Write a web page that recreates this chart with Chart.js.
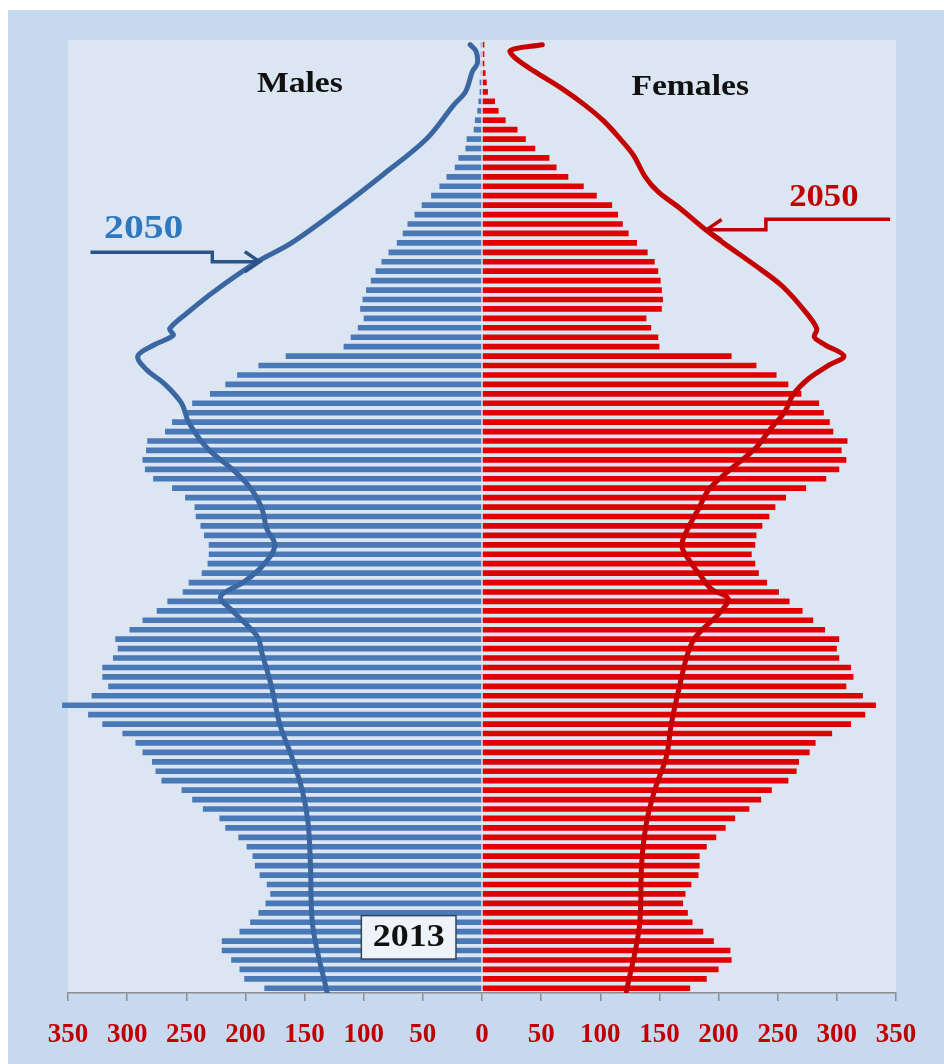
<!DOCTYPE html>
<html>
<head>
<meta charset="utf-8">
<script src="https://cdn.jsdelivr.net/npm/chart.js@4.4.1/dist/chart.umd.min.js"></script>
<style>
  html, body { margin: 0; padding: 0; background: #fff; }
  #wrap { width: 944px; height: 1064px; position: relative; }
</style>
</head>
<body>
<div id="wrap"><canvas id="pyramid"></canvas></div>
<script>
// single years of age, 0 at the bottom up to 100+
const ages = Array.from({ length: 101 }, (_, i) => i);

// 2013 population by single year of age (thousands)
const males2013 = [
  184, 201, 205, 212, 220, 220, 205, 196, 189, 183,
  179, 182, 188, 192, 194, 199, 206, 217, 222, 236,
  245, 254, 271, 276, 279, 287, 293, 304, 321, 333,
  355, 330, 316, 321, 321, 312, 308, 310, 298, 287,
  275, 266, 253, 248, 237, 232, 231, 231, 235, 238,
  242, 243, 251, 262, 278, 285, 287, 284, 283, 268,
  262, 252, 245, 230, 217, 207, 189, 166, 117, 111,
  105, 100, 103, 101, 98, 94, 90, 85, 79, 72,
  67, 63, 57, 51, 43, 36, 30, 23, 20, 14,
  13, 7, 6, 4, 3, 2, 2, 1, 1, 1, 1
];
const females2013 = [
  176, 190, 200, 211, 210, 196, 187, 178, 174, 170,
  172, 177, 183, 184, 184, 190, 198, 206, 214, 226,
  236, 245, 259, 266, 268, 277, 282, 296, 312, 324,
  333, 322, 308, 314, 312, 302, 300, 302, 290, 280,
  271, 260, 251, 241, 234, 231, 228, 231, 232, 237,
  243, 248, 257, 274, 291, 302, 308, 304, 309, 297,
  294, 289, 285, 270, 259, 249, 232, 211, 150, 149,
  143, 139, 152, 153, 152, 151, 149, 146, 140, 131,
  124, 119, 115, 110, 97, 86, 73, 63, 57, 45,
  37, 30, 20, 14, 11, 5, 4, 3, 2, 2, 2
];

// 2050 projection, read at the ages where the profile bends
const males2050Ages = [-0.4, 6.5, 13, 17.5, 21, 24.6, 28, 32, 35.5, 37.3, 40, 41.5, 43, 44.7, 46.9, 48.7,
  50.8, 52.9, 55, 57.2, 60, 62, 64, 65.6, 67, 68.2, 69.2, 69.9, 71.7, 73.8, 77, 79, 82.7, 86.2,
  90, 93.6, 95, 97.2, 98, 99.3, 100];
const males2050 = [131, 143, 145, 147, 152, 161, 171, 178, 186, 190, 211, 221, 202, 186, 175, 182,
  186, 195, 211, 232, 248, 254, 268, 284, 291, 277, 261, 264, 248, 227, 190, 161, 120, 84,
  47, 24, 14, 8, 4, 5, 10];

const females2050Ages = [-0.4, 6.5, 13.3, 17.5, 21, 24.6, 28, 32, 35.5, 37.3, 39.8, 41.3, 42.3, 43.7, 45.2,
  46.9, 48.7, 50.8, 52.9, 55, 57.2, 59.3, 61.1, 62.9, 64.6, 66.1, 67, 68.2, 69, 69.9, 71.6, 74.4,
  76.6, 79, 80.5, 82.7, 84.4, 86, 88.3, 90, 91.9, 93.6, 95.4, 97.2, 98.6, 99.4, 100];
const females2050 = [122, 133, 135, 139, 146, 156, 160, 167, 174, 181, 201, 208, 194, 185, 176,
  169, 174, 183, 192, 210, 231, 244, 256, 263, 276, 294, 306, 290, 281, 283, 274, 254,
  231, 204, 188, 167, 149, 138, 128, 117, 103, 87, 67, 44, 28, 24, 51];

const xTicks = [-350, -300, -250, -200, -150, -100, -50, 0, 50, 100, 150, 200, 250, 300, 350];

const SERIF = '"Liberation Serif", "Times New Roman", serif';
const BLUE_BAR = '#4a79b7';
const RED_BAR = '#e10000';
const BLUE_LINE = '#3a66a2';
const RED_LINE = '#c40000';

// page frame and the pale plot panel
const panelPlugin = {
  id: 'panel',
  beforeDraw(chart) {
    const { ctx, chartArea: a, width, height } = chart;
    ctx.save();
    ctx.fillStyle = '#ffffff';
    ctx.fillRect(0, 0, width, height);
    ctx.fillStyle = '#c6d9ef';
    ctx.fillRect(8, 10, width - 8, height - 10);
    ctx.fillStyle = '#dce6f2';
    ctx.fillRect(a.left, a.top, a.right - a.left, a.bottom - a.top);
    ctx.restore();
  }
};

function arrow(ctx, pts, color, width) {
  ctx.save();
  ctx.strokeStyle = color;
  ctx.lineWidth = width;
  ctx.lineJoin = 'miter';
  ctx.beginPath();
  ctx.moveTo(pts[0][0], pts[0][1]);
  for (let i = 1; i < pts.length; i++) ctx.lineTo(pts[i][0], pts[i][1]);
  ctx.stroke();
  // open arrow head at the last point
  const [x1, y1] = pts[pts.length - 1];
  const [x0, y0] = pts[pts.length - 2];
  const ang = Math.atan2(y1 - y0, x1 - x0);
  const len = 18, spread = 0.6;
  ctx.beginPath();
  ctx.moveTo(x1 - len * Math.cos(ang - spread), y1 - len * Math.sin(ang - spread));
  ctx.lineTo(x1, y1);
  ctx.lineTo(x1 - len * Math.cos(ang + spread), y1 - len * Math.sin(ang + spread));
  ctx.stroke();
  ctx.restore();
}

// bold serif text, a little wider than the font draws it
function wideText(ctx, text, x, y, size, stretch, color) {
  ctx.save();
  ctx.translate(x, y);
  ctx.scale(stretch, 1);
  ctx.font = 'bold ' + size + 'px ' + SERIF;
  ctx.fillStyle = color;
  ctx.textAlign = 'center';
  ctx.textBaseline = 'middle';
  ctx.fillText(text, 0, 0);
  ctx.restore();
}

// side titles, 2050 call-outs and the 2013 tag
const labelsPlugin = {
  id: 'labels',
  afterDatasetsDraw(chart) {
    const { ctx } = chart;
    const xs = chart.scales.x, ys = chart.scales.y;
    const px = v => xs.getPixelForValue(v);
    const py = v => ys.getPixelForValue(v);

    wideText(ctx, 'Males', px(-154), py(95.8), 30, 1.12, '#111');
    wideText(ctx, 'Females', px(176), py(95.5), 30, 1.12, '#111');

    wideText(ctx, '2050', px(-286), py(80.4), 33, 1.2, '#2f78bf');
    wideText(ctx, '2050', px(289), py(83.8), 31, 1.12, '#c00000');

    arrow(ctx, [[px(-331), py(78.0)], [px(-228), py(78.0)], [px(-228), py(77.0)], [px(-188), py(77.0)]], '#2b5388', 3.5);
    arrow(ctx, [[px(345), py(81.5)], [px(240), py(81.5)], [px(240), py(80.4)], [px(190), py(80.4)]], '#c00000', 3.5);

    // 2013 tag box
    const bx0 = px(-102), bx1 = px(-22), by0 = py(7.7), by1 = py(3.1);
    ctx.save();
    ctx.fillStyle = '#eef3f9';
    ctx.fillRect(bx0, by0, bx1 - bx0, by1 - by0);
    ctx.strokeStyle = '#34445a';
    ctx.lineWidth = 1.5;
    ctx.strokeRect(bx0, by0, bx1 - bx0, by1 - by0);
    ctx.restore();
    wideText(ctx, '2013', (bx0 + bx1) / 2, (by0 + by1) / 2 + 1, 31, 1.16, '#111');
  }
};

new Chart(document.getElementById('pyramid'), {
  data: {
    datasets: [
      {
        type: 'line',
        label: 'Males 2050',
        data: males2050Ages.map((a, i) => ({ x: -males2050[i], y: a })),
        borderColor: BLUE_LINE,
        borderWidth: 5,
        pointRadius: 0,
        tension: 0.35,
        borderCapStyle: 'round',
        borderJoinStyle: 'round',
        order: 0
      },
      {
        type: 'line',
        label: 'Females 2050',
        data: females2050Ages.map((a, i) => ({ x: females2050[i], y: a })),
        borderColor: RED_LINE,
        borderWidth: 5,
        pointRadius: 0,
        tension: 0.35,
        borderCapStyle: 'round',
        borderJoinStyle: 'round',
        order: 0
      },
      {
        type: 'bar',
        label: 'Males 2013',
        data: ages.map((a, i) => ({ x: -males2013[i], y: a })),
        backgroundColor: BLUE_BAR,
        grouped: false,
        clip: false,
        barPercentage: 0.6,
        categoryPercentage: 1,
        order: 1
      },
      {
        type: 'bar',
        label: 'Females 2013',
        data: ages.map((a, i) => ({ x: females2013[i], y: a })),
        backgroundColor: RED_BAR,
        grouped: false,
        clip: false,
        barPercentage: 0.6,
        categoryPercentage: 1,
        order: 1
      }
    ]
  },
  options: {
    indexAxis: 'y',
    responsive: true,
    maintainAspectRatio: false,
    animation: false,
    layout: { padding: { left: 68, right: 48, top: 40, bottom: 0 } },
    scales: {
      x: {
        type: 'linear',
        min: -350,
        max: 350,
        afterBuildTicks: s => { s.ticks = xTicks.map(v => ({ value: v })); },
        afterFit: s => { s.height = 71; },
        ticks: {
          callback: v => Math.abs(v),
          color: '#c00000',
          padding: 18,
          maxRotation: 0,
          autoSkip: false,
          font: { family: SERIF, size: 27, weight: 'bold' }
        },
        grid: { drawOnChartArea: false, drawTicks: true, tickLength: 8, color: '#8c8c8c', lineWidth: 1.5 },
        border: { display: true, color: '#8c8c8c', width: 1.5 }
      },
      y: {
        type: 'linear',
        min: -0.5,
        max: 100.5,
        offset: false,
        display: false
      }
    },
    plugins: {
      legend: { display: false },
      tooltip: { enabled: false }
    }
  },
  plugins: [panelPlugin, labelsPlugin]
});
</script>
</body>
</html>
